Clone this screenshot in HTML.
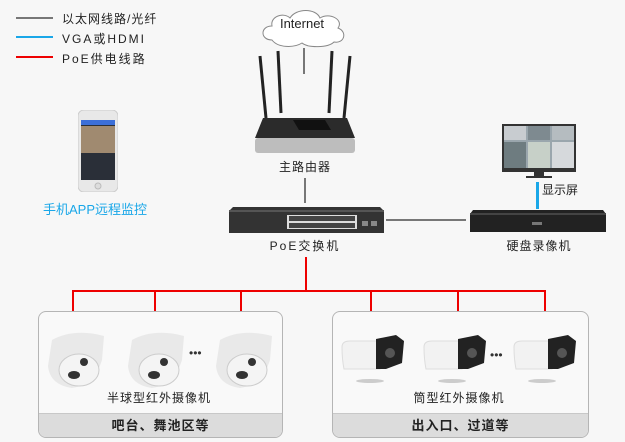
<!DOCTYPE html>
<html><head><meta charset="utf-8"><style>
*{margin:0;padding:0;box-sizing:border-box}
body{width:625px;height:442px;background:#f7f7f7;position:relative;overflow:hidden;font-family:"Liberation Sans","Noto Sans CJK SC",sans-serif;color:#222}
.a{position:absolute}
.t{position:absolute;font-size:12px;white-space:nowrap;letter-spacing:1px}
.c{transform:translateX(-50%)}
.box{position:absolute;border:1px solid #b5b5b5;border-radius:8px;background:#f9f9f9;overflow:hidden}
.foot{position:absolute;left:0;right:0;bottom:0;height:24px;background:#dcdcdc;border-top:1px solid #c8c8c8;text-align:center;font-weight:bold;font-size:13px;line-height:23px;letter-spacing:1px}
.r{position:absolute;background:#e00}
</style></head><body>
<!-- legend -->
<div class="a" style="left:16px;top:17px;width:37px;height:2px;background:#777"></div>
<div class="a" style="left:16px;top:36px;width:37px;height:2px;background:#1aa7e8"></div>
<div class="a" style="left:16px;top:56px;width:37px;height:2px;background:#e00"></div>
<div class="t" style="left:62px;top:10px">以太网线路/光纤</div>
<div class="t" style="left:62px;top:30px;letter-spacing:2px">VGA或HDMI</div>
<div class="t" style="left:62px;top:50px;letter-spacing:2px">PoE供电线路</div>

<!-- cloud -->
<svg class="a" style="left:258px;top:8px" width="92" height="40"><path d="M14 32 C2 32 2 18 14 18 C12 8 26 4 32 10 C38 0 58 0 62 10 C72 4 86 12 80 20 C90 24 86 36 76 34 C70 40 50 40 44 35 C36 40 20 40 14 32Z" fill="#fff" stroke="#888" stroke-width="1"/></svg>
<div class="t c" style="left:302px;top:16px;font-size:13px;letter-spacing:0">Internet</div>
<div class="a" style="left:303px;top:48px;width:2px;height:26px;background:#777"></div>

<!-- router -->
<svg class="a" style="left:255px;top:48px" width="100" height="110">
<g stroke="#222" stroke-width="3"><line x1="5" y1="8" x2="11" y2="70"/><line x1="23" y1="3" x2="26" y2="65"/><line x1="77" y1="3" x2="74" y2="65"/><line x1="95" y1="8" x2="89" y2="70"/></g>
<path d="M8 70 L92 70 L100 90 L0 90Z" fill="#2b2b2b"/>
<path d="M38 72 L70 72 L76 82 L44 82Z" fill="#111"/>
<rect x="0" y="90" width="100" height="15" rx="3" fill="#bdbdbd"/>
</svg>
<div class="t c" style="left:305px;top:158px">主路由器</div>
<div class="a" style="left:304px;top:178px;width:2px;height:25px;background:#777"></div>

<!-- switch -->
<svg class="a" style="left:229px;top:207px" width="155" height="28">
<path d="M4 0 L151 0 L155 4 L155 26 L0 26 L0 4Z" fill="#333"/>
<rect x="0" y="3" width="155" height="2" fill="#555"/>
<rect x="58" y="8" width="70" height="14" fill="#ddd"/>
<g fill="#444"><rect x="60" y="9" width="66" height="5"/><rect x="60" y="16" width="66" height="5"/></g>
<rect x="133" y="14" width="6" height="5" fill="#888"/><rect x="142" y="14" width="6" height="5" fill="#888"/>
</svg>
<div class="t c" style="left:305px;top:237px;letter-spacing:2px">PoE交换机</div>
<div class="a" style="left:386px;top:219px;width:80px;height:2px;background:#777"></div>

<!-- monitor -->
<svg class="a" style="left:502px;top:124px" width="74" height="56">
<rect x="0" y="0" width="74" height="48" fill="#333"/>
<rect x="2" y="2" width="70" height="42" fill="#9aa6ad"/>
<rect x="2" y="2" width="22" height="14" fill="#c8ccd0"/><rect x="26" y="2" width="22" height="14" fill="#7e8a90"/><rect x="50" y="2" width="22" height="14" fill="#b5bcc0"/>
<rect x="2" y="18" width="22" height="26" fill="#6e7c80"/><rect x="26" y="18" width="22" height="26" fill="#c7d0c8"/><rect x="50" y="18" width="22" height="26" fill="#d6d9dc"/>
<rect x="32" y="48" width="10" height="4" fill="#333"/><rect x="24" y="52" width="26" height="2" fill="#333"/>
</svg>
<div class="a" style="left:536px;top:182px;width:3px;height:27px;background:#1aa7e8"></div>
<div class="t" style="left:542px;top:181px;letter-spacing:0">显示屏</div>

<!-- NVR -->
<svg class="a" style="left:470px;top:208px" width="136" height="26">
<path d="M3 2 L133 2 L136 6 L136 24 L0 24 L0 6Z" fill="#222"/>
<rect x="0" y="5" width="136" height="2" fill="#444"/>
<rect x="62" y="14" width="10" height="3" fill="#777"/>
</svg>
<div class="t c" style="left:539px;top:237px">硬盘录像机</div>

<!-- phone -->
<svg class="a" style="left:78px;top:110px" width="40" height="82">
<rect x="0" y="0" width="40" height="82" rx="6" fill="#e8e8e8" stroke="#ccc"/>
<rect x="3" y="10" width="34" height="60" fill="#2a2f38"/>
<rect x="3" y="10" width="34" height="5" fill="#3c6fd8"/>
<rect x="3" y="16" width="34" height="27" fill="#a08a70"/>
<circle cx="20" cy="76" r="3" fill="#ddd" stroke="#bbb"/>
</svg>
<div class="t c" style="left:95px;top:199px;color:#1aa7e8;font-size:13px;letter-spacing:0">手机APP远程监控</div>

<!-- red lines -->
<div class="r" style="left:305px;top:257px;width:2px;height:35px"></div>
<div class="r" style="left:72px;top:290px;width:474px;height:2px"></div>
<div class="r" style="left:72px;top:290px;width:2px;height:26px"></div>
<div class="r" style="left:154px;top:290px;width:2px;height:26px"></div>
<div class="r" style="left:240px;top:290px;width:2px;height:26px"></div>
<div class="r" style="left:370px;top:290px;width:2px;height:26px"></div>
<div class="r" style="left:457px;top:290px;width:2px;height:26px"></div>
<div class="r" style="left:544px;top:290px;width:2px;height:26px"></div>

<!-- boxes -->
<div class="box" style="left:38px;top:311px;width:245px;height:127px"><div class="foot">吧台、舞池区等</div></div>
<div class="box" style="left:332px;top:311px;width:257px;height:127px"><div class="foot">出入口、过道等</div></div>
<div class="t c" style="left:159px;top:389px">半球型红外摄像机</div>
<div class="t c" style="left:459px;top:389px">筒型红外摄像机</div>

<!-- dome cams -->
<svg class="a" style="left:44px;top:330px" width="230" height="65">
<defs><g id="d"><path d="M8 10 Q30 -2 60 6 L58 30 Q50 55 28 58 Q6 55 4 36Z" fill="#e9e9e9"/><ellipse cx="35" cy="40" rx="20" ry="16" fill="#f4f4f4" stroke="#ccc"/><circle cx="40" cy="32" r="4" fill="#333"/><ellipse cx="30" cy="45" rx="6" ry="4" fill="#333"/></g></defs>
<use href="#d" x="0"/><use href="#d" x="80"/><use href="#d" x="168"/>
<text x="145" y="27" font-size="12" fill="#333">•••</text>
</svg>
<!-- bullet cams -->
<svg class="a" style="left:340px;top:335px" width="245" height="55">
<defs><g id="b"><path d="M2 12 Q2 6 10 6 L40 6 L40 34 L4 34 Q2 24 2 12Z" fill="#f2f2f2" stroke="#ddd"/><path d="M36 4 L56 0 L64 6 L62 28 L46 34 L36 34Z" fill="#222"/><circle cx="50" cy="18" r="5" fill="#555"/><ellipse cx="30" cy="46" rx="14" ry="2" fill="#ccc"/></g></defs>
<use href="#b" x="0"/><use href="#b" x="82"/><use href="#b" x="172"/>
<text x="150" y="24" font-size="12" fill="#333">•••</text>
</svg>
</body></html>
